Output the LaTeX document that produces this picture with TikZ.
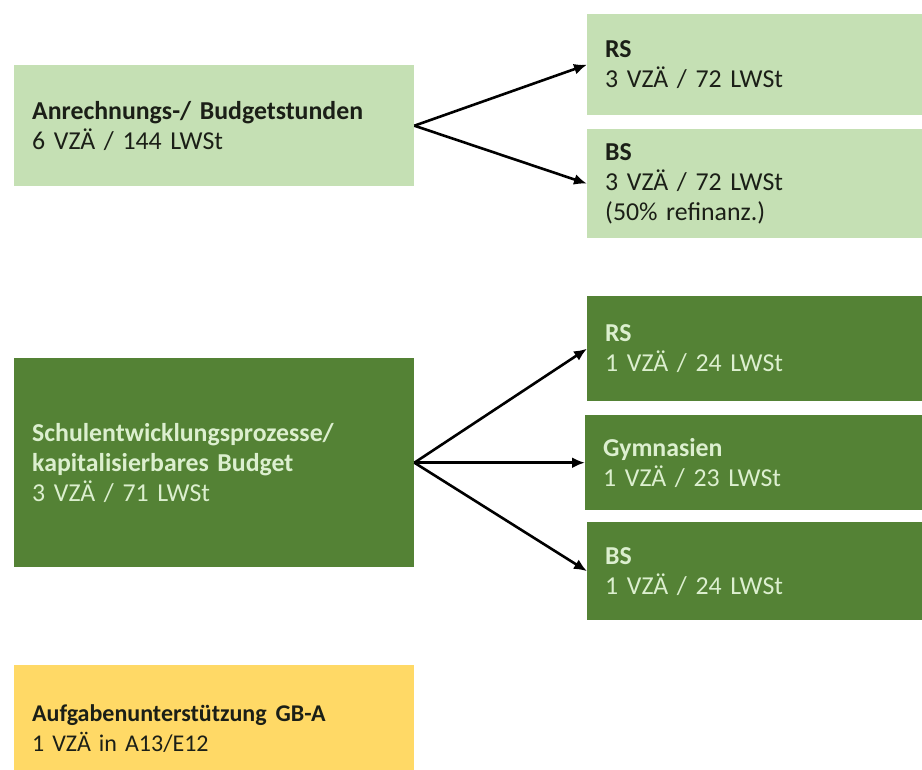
\documentclass[tikz,border=0pt]{standalone}
\usepackage{fontspec}
\setmainfont{Carlito}
\usetikzlibrary{arrows.meta}
\definecolor{lgreen}{HTML}{C5E0B4}
\definecolor{dgreen}{HTML}{548235}
\definecolor{ylw}{HTML}{FFD966}
\definecolor{paletext}{HTML}{DCEFCF}
\definecolor{darktext}{HTML}{1B1F17}
\protected\def\mygreenfont{\fontsize{25.8}{30}\selectfont}
\protected\def\myyelfont{\fontsize{24}{30}\selectfont}
\begin{document}
\begin{tikzpicture}[x=1pt,y=-1pt,
  box/.style={anchor=north west, inner xsep=18pt, inner ysep=0pt, align=left,
    font=\mygreenfont},
  light/.style={box, fill=lgreen, text=darktext},
  dark/.style={box, fill=dgreen, text=paletext},
  yel/.style={box, fill=ylw, text=darktext, font=\myyelfont},
  leftw/.style={minimum width=400pt, text width=364pt},
  rightw/.style={minimum width=335pt, text width=299pt},
  conn/.style={line width=2.6pt, -{Latex[length=13pt,width=11pt]}}]
\useasboundingbox (0,0) rectangle (922,770);
\fill[white] (0,0) rectangle (922,770);
% top group
\node[light,leftw,minimum height=121pt] (anr) at (14,65)
  {\textbf{Anrechnungs-/ Budgetstunden}\\6 VZÄ / 144 LWSt};
\node[light,rightw,minimum height=101pt] (rs1) at (587,14)
  {\textbf{RS}\\3 VZÄ / 72 LWSt};
\node[light,rightw,minimum height=109pt] (bs1) at (587,129)
  {\textbf{BS}\\3 VZÄ / 72 LWSt\\(50\% refinanz.)};
% middle group
\node[dark,leftw,minimum height=209pt] (sch) at (14,358)
  {\textbf{Schulentwicklungsprozesse/}\\\textbf{kapitalisierbares Budget}\\3 VZÄ / 71 LWSt};
\node[dark,rightw,minimum height=105pt] (rs2) at (587,296)
  {\textbf{RS}\\1 VZÄ / 24 LWSt};
\node[dark,minimum width=337pt,text width=301pt,minimum height=95pt] (gym) at (585,415)
  {\textbf{Gymnasien}\\1 VZÄ / 23 LWSt};
\node[dark,rightw,minimum height=98pt] (bs2) at (587,522)
  {\textbf{BS}\\1 VZÄ / 24 LWSt};
% bottom
\node[yel,leftw,minimum height=126pt] (auf) at (14,665)
  {\textbf{Aufgabenunterstützung\hspace{9pt}GB-A}\\1 VZÄ in A13/E12};
% connectors
\draw[conn] (anr.east) -- (rs1.west);
\draw[conn] (anr.east) -- (bs1.west);
\draw[conn] (sch.east) -- (rs2.west);
\draw[conn] (sch.east) -- (gym.west);
\draw[conn] (sch.east) -- (bs2.west);
\end{tikzpicture}
\end{document}
